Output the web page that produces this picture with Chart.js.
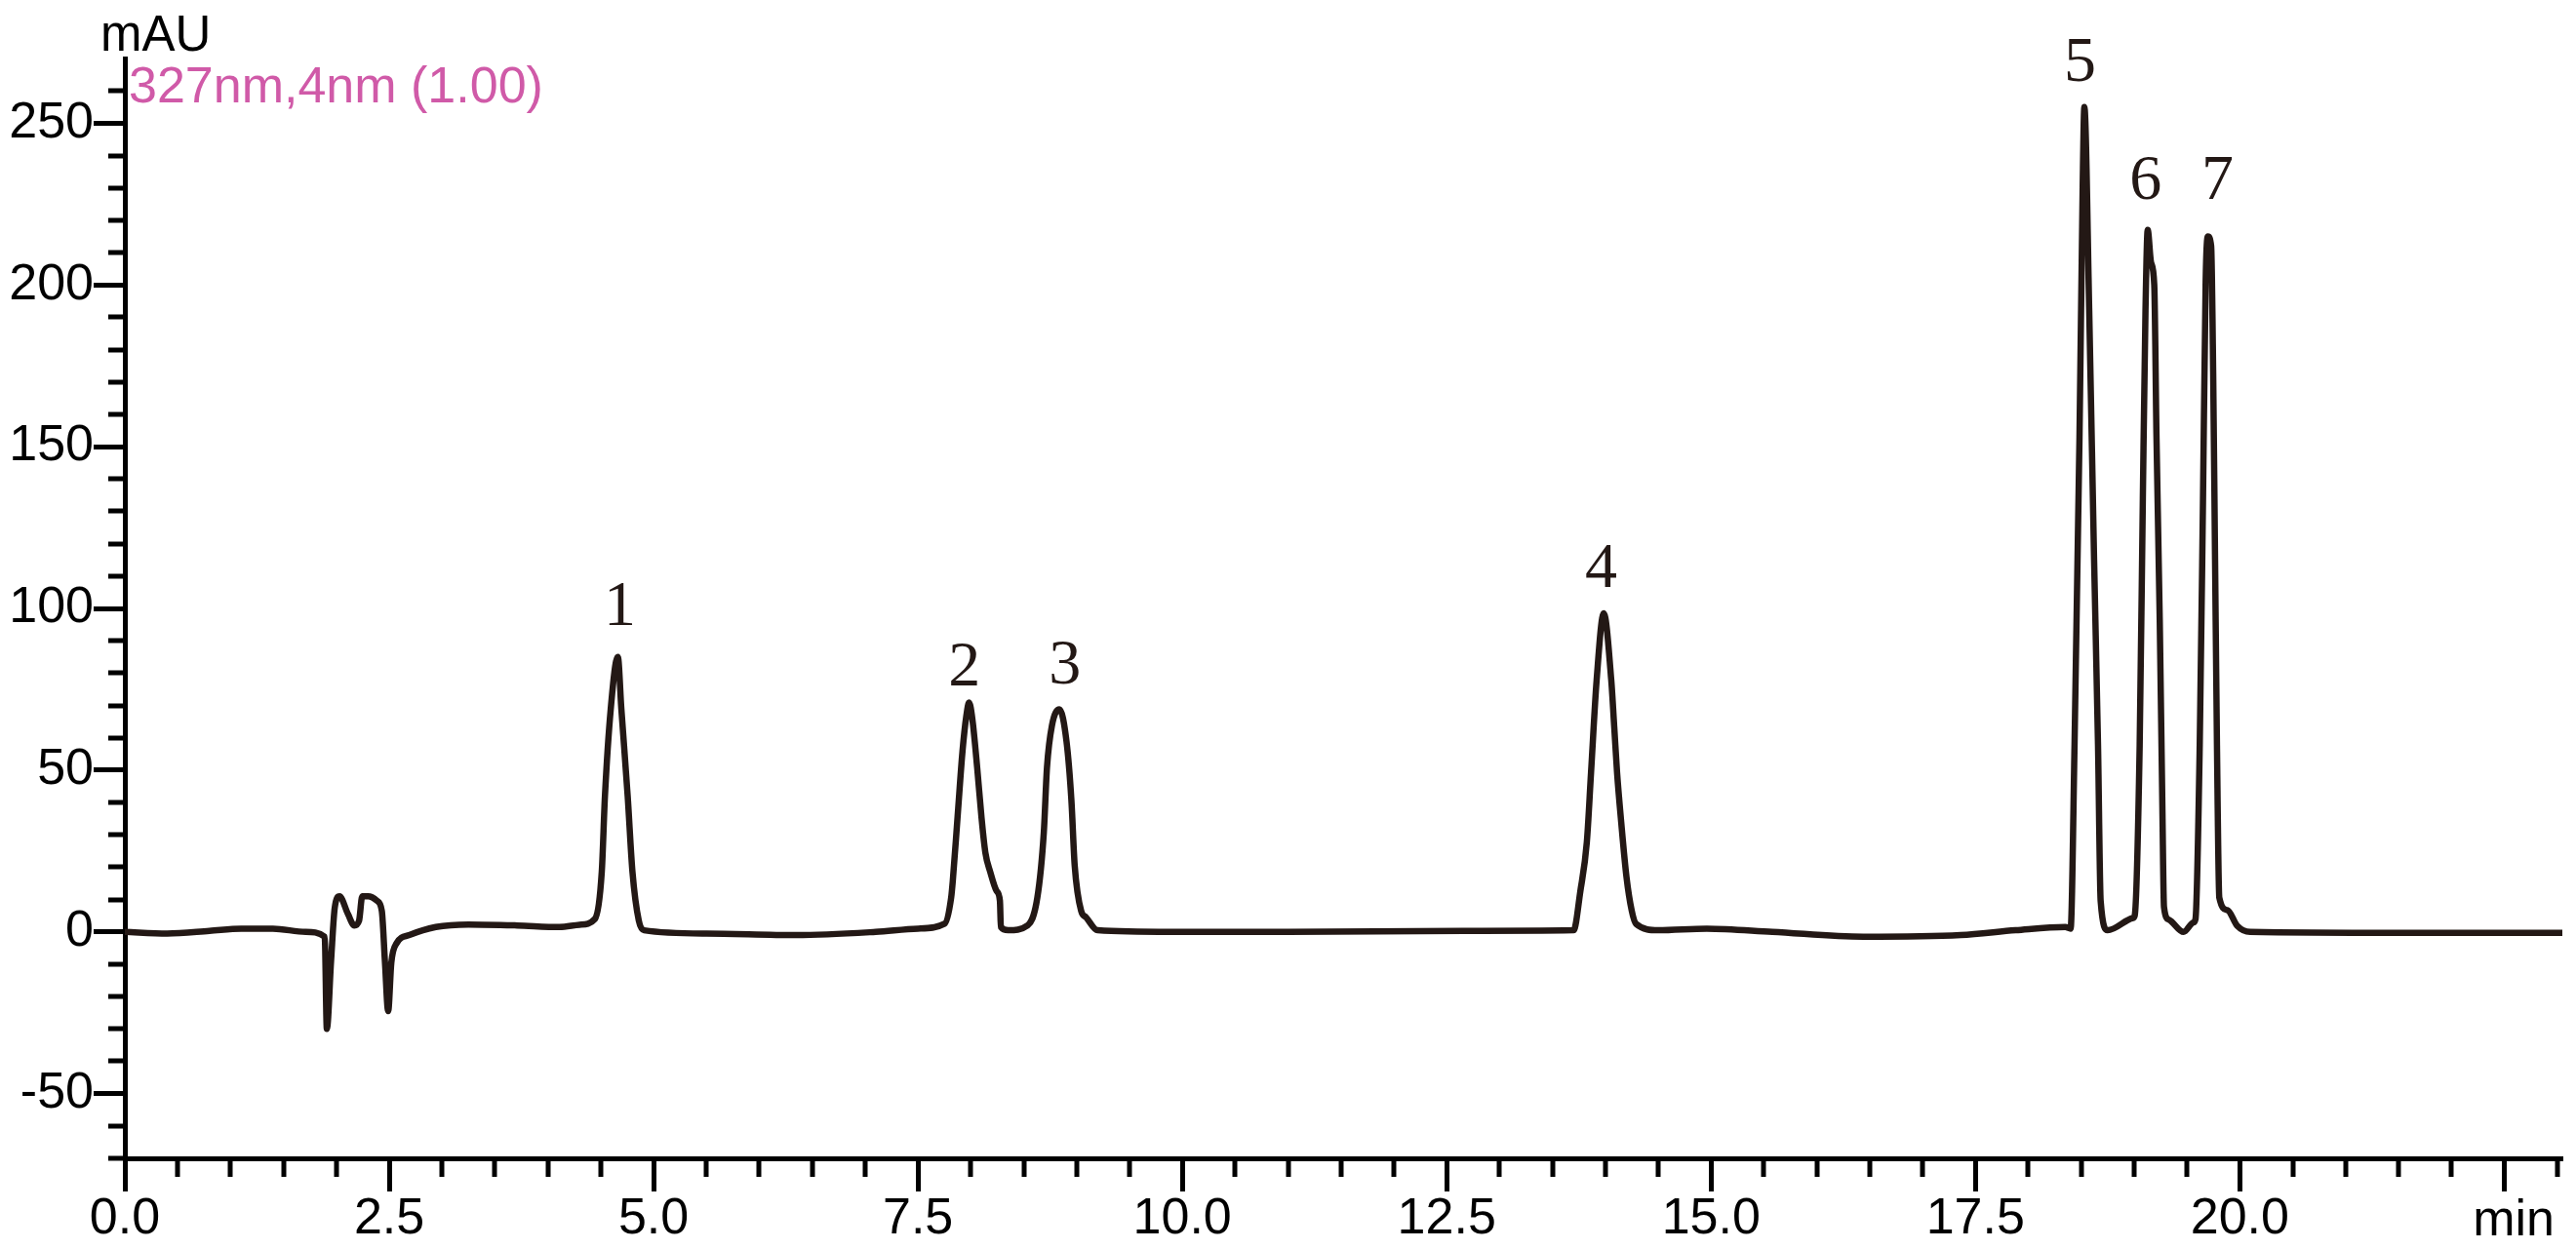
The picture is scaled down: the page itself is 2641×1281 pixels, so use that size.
<!DOCTYPE html>
<html lang="en">
  <head>
    <meta charset="UTF-8" />
    <title>Chromatogram 327nm</title>
    <style>
      html, body {
        margin: 0;
        padding: 0;
        background: #fff;
      }
      #chart-box {
        width: 2641px;
        height: 1281px;
      }
    </style>
  </head>
  <body>
    <div id="chart-box"><canvas id="myChart" width="2641" height="1281"></canvas></div>
    <script src="https://cdn.jsdelivr.net/npm/chart.js"></script>
    <script>
      // retention time (min)
      const retentionTimes = [
        0.0, 0.4, 0.8, 1.1, 1.4, 1.71, 1.89, 1.91, 1.95, 1.985,
        2.03, 2.11, 2.17, 2.215, 2.245, 2.3, 2.385, 2.43, 2.46, 2.49,
        2.52, 2.57, 2.69, 2.94, 3.25, 3.71, 4.11, 4.3, 4.445, 4.51,
        4.54, 4.595, 4.662, 4.695, 4.755, 4.8, 4.86, 4.91, 5.5, 6.35,
        7.1, 7.5, 7.752, 7.814, 7.829, 7.875, 7.921, 7.958, 7.983, 8.014,
        8.06, 8.1, 8.137, 8.183, 8.244, 8.275, 8.284, 8.352, 8.537, 8.629,
        8.69, 8.72, 8.767, 8.838, 8.905, 8.951, 8.982, 9.043, 9.09, 9.198,
        9.89, 11.0, 12.66, 13.7, 13.764, 13.825, 13.865, 13.918, 13.985, 14.056,
        14.085, 14.111, 14.15, 14.2, 14.25, 14.29, 14.5, 14.96, 15.58, 16.44,
        17.36, 17.88, 18.35, 18.4, 18.437, 18.484, 18.514, 18.53, 18.576, 18.622,
        18.659, 18.684, 18.75, 18.99, 19.006, 19.053, 19.083, 19.108, 19.129, 19.16,
        19.191, 19.212, 19.243, 19.268, 19.283, 19.329, 19.468, 19.56, 19.581, 19.621,
        19.652, 19.677, 19.698, 19.729, 19.748, 19.766, 19.784, 19.806, 19.883, 19.975,
        20.098, 21.5, 23.05
      ]
      // signal (mAU)
      const absorbance = [
        0.0, -0.5, 0.3, 1.0, 1.0, 0.0, -1.5, -30.0, -9.0, 7.5,
        11.0, 5.5, 2.0, 3.5, 11.0, 11.0, 9.6, 6.5, -9.5, -24.5,
        -9.5, -3.5, -1.0, 1.5, 2.3, 2.0, 1.5, 2.2, 4.0, 18.6,
        42.0, 69.0, 85.0, 69.0, 42.0, 18.6, 3.5, 0.5, -0.5, -1.0,
        0.0, 1.0, 2.5, 10.6, 15.6, 35.7, 55.8, 66.9, 70.9, 65.9,
        50.8, 35.7, 24.6, 18.6, 12.6, 9.6, 1.5, 0.5, 2.0, 10.6,
        30.7, 50.8, 63.8, 68.8, 58.8, 40.7, 20.6, 6.5, 4.5, 0.5,
        0.0, 0.0, 0.3, 0.5, 12.6, 27.7, 49.3, 77.9, 98.5, 77.9,
        63.0, 49.3, 34.0, 17.0, 6.5, 2.5, 0.5, 1.0, 0.0, -1.5,
        -1.0, 0.5, 1.5, 1.0, 57.6, 153, 230, 255, 192, 115,
        58, 9.6, 0.5, 4.3, 5.0, 57.6, 134, 192, 217, 207,
        200, 153, 96, 38, 7.7, 3.8, 0.0, 2.9, 4.0, 57.6,
        134, 201, 215, 212, 173, 115, 57.6, 10.6, 6.7, 1.9,
        0.0, -0.3, -0.3
      ]

      const peakNames = ['1', '2', '3', '4', '5', '6', '7']
      const peakLabelTimes = [4.68, 7.94, 8.89, 13.96, 18.49, 19.11, 19.79]
      const peakLabelHeights = [95, 76.3, 76.9, 106.5, 263, 226.5, 226.5]

      const xMin = 0
      const xMax = 23.05
      const xMajorStep = 2.5
      const xMinorStep = 0.5
      const yMin = -70
      const yMax = 270
      const yMajorStep = 50
      const yMinorStep = 10

      const channelText = '327nm,4nm (1.00)'
      const yUnit = 'mAU'
      const xUnit = 'min'

      const ink = '#231815'
      const axisColor = '#000'

      const isMajor = (v, step) => Math.abs(v / step - Math.round(v / step)) < 1e-6

      const decorations = {
        id: 'decorations',
        afterDraw(chart) {
          const { ctx, chartArea, scales } = chart
          const xs = scales.x
          const ys = scales.y
          ctx.save()
          ctx.strokeStyle = axisColor
          ctx.lineWidth = 5
          ctx.lineCap = 'butt'

          // minor ticks
          ctx.beginPath()
          for (let v = xMin + xMinorStep; v <= xMax + 1e-6; v += xMinorStep) {
            if (isMajor(v, xMajorStep)) continue
            const px = Math.round(xs.getPixelForValue(v))
            ctx.moveTo(px, chartArea.bottom)
            ctx.lineTo(px, chartArea.bottom + 19)
          }
          for (let v = yMin; v < yMax - 1e-6; v += yMinorStep) {
            if (isMajor(v, yMajorStep)) continue
            const py = Math.round(ys.getPixelForValue(v))
            ctx.moveTo(chartArea.left, py)
            ctx.lineTo(chartArea.left - 17, py)
          }
          ctx.stroke()

          // unit labels
          ctx.fillStyle = '#000'
          ctx.font = '51px "Liberation Sans", Arial, sans-serif'
          ctx.textAlign = 'left'
          ctx.textBaseline = 'alphabetic'
          ctx.fillText(yUnit, chartArea.left - 25, 52)
          ctx.font = '52px "Liberation Sans", Arial, sans-serif'
          ctx.textAlign = 'right'
          ctx.fillText(xUnit, chartArea.right - 8, 1267)

          // channel text
          ctx.fillStyle = '#d05aa8'
          ctx.textAlign = 'left'
          ctx.fillText(channelText, chartArea.left + 4, 105)

          // peak numbers
          ctx.fillStyle = ink
          ctx.font = '66px "Liberation Serif", "DejaVu Serif", serif'
          ctx.textAlign = 'center'
          peakNames.forEach((name, i) => {
            ctx.fillText(
              name,
              xs.getPixelForValue(peakLabelTimes[i]),
              ys.getPixelForValue(peakLabelHeights[i])
            )
          })
          ctx.restore()
        }
      }

      const ctx = document.getElementById('myChart')
      const data = {
        datasets: [
          {
            data: retentionTimes.map((t, i) => ({ x: t, y: absorbance[i] })),
            borderColor: ink,
            borderWidth: 6.5,
            pointRadius: 0,
            cubicInterpolationMode: 'monotone',
            borderJoinStyle: 'round',
            borderCapStyle: 'round',
            fill: false
          }
        ]
      }

      const myChart = new Chart(ctx, {
        type: 'line',
        data: data,
        options: {
          responsive: false,
          animation: false,
          devicePixelRatio: 1,
          layout: {
            padding: { top: 60, right: 14, bottom: 13, left: 0 }
          },
          plugins: {
            legend: { display: false },
            tooltip: { enabled: false }
          },
          scales: {
            x: {
              type: 'linear',
              min: xMin,
              max: xMax,
              afterFit: (scale) => {
                scale.height = 80
              },
              border: { display: true, color: axisColor, width: 5 },
              grid: {
                drawOnChartArea: false,
                drawTicks: true,
                tickLength: 34,
                tickWidth: 5,
                tickColor: axisColor
              },
              ticks: {
                stepSize: xMajorStep,
                includeBounds: false,
                autoSkip: false,
                maxRotation: 0,
                padding: 3,
                color: '#000',
                font: { family: '"Liberation Sans", Arial, sans-serif', size: 52, lineHeight: 1 },
                callback: (v) => (v > 21 ? '' : Number(v).toFixed(1))
              }
            },
            y: {
              type: 'linear',
              min: yMin,
              max: yMax,
              afterFit: (scale) => {
                scale.width = 128
              },
              border: { display: true, color: axisColor, width: 5 },
              grid: {
                drawOnChartArea: false,
                drawTicks: true,
                tickLength: 32,
                tickWidth: 5,
                tickColor: axisColor
              },
              ticks: {
                stepSize: yMajorStep,
                includeBounds: false,
                padding: 0,
                color: '#000',
                font: { family: '"Liberation Sans", Arial, sans-serif', size: 52 },
                callback: (v) => String(v)
              }
            }
          }
        },
        plugins: [decorations]
      })
    </script>
  </body>
</html>
